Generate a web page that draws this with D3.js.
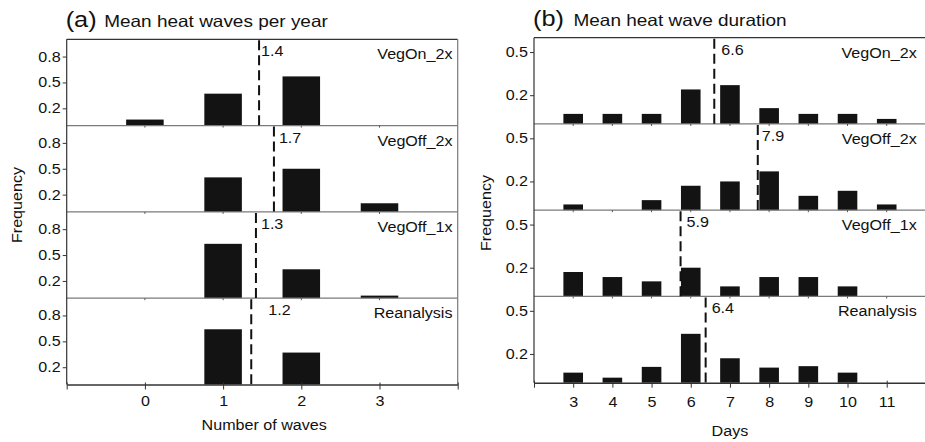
<!DOCTYPE html>
<html><head><meta charset="utf-8">
<script src="https://cdn.jsdelivr.net/npm/d3@7"></script>
<style>
html,body{margin:0;padding:0;background:#fff;}
text{font-family:"Liberation Sans",Arial,Helvetica,sans-serif;fill:#111;}
</style></head>
<body><svg id="c" width="925" height="442"></svg>
<script>
// ---------- data ----------
const panelNames = ["VegOn_2x", "VegOff_2x", "VegOff_1x", "Reanalysis"];

// (a) number of heat waves per year
const waveCounts = [0, 1, 2, 3];
const wavesVegOn2x     = [0.07, 0.37, 0.57, 0];
const wavesVegOff2x    = [0, 0.40, 0.50, 0.10];
const wavesVegOff1x    = [0, 0.63, 0.335, 0.03];
const wavesReanalysis  = [0, 0.64, 0.37, 0];
const wavesMean        = [1.46, 1.65, 1.42, 1.36];
const wavesMeanLabel   = ["1.4", "1.7", "1.3", "1.2"];
const wavesYTicks      = [0.2, 0.5, 0.8];
const wavesXTicks      = [-1, 0, 1, 2, 3, 4];
const wavesXLabels     = ["", "0", "1", "2", "3", ""];

// (b) heat wave duration
const days = [3, 4, 5, 6, 7, 8, 9, 10, 11];
const durVegOn2x    = [0.07, 0.07, 0.07, 0.24, 0.27, 0.11, 0.07, 0.07, 0.035];
const durVegOff2x   = [0.04, 0, 0.07, 0.17, 0.20, 0.27, 0.10, 0.135, 0.04];
const durVegOff1x   = [0.17, 0.135, 0.105, 0.20, 0.07, 0.135, 0.135, 0.07, 0];
const durReanalysis = [0.07, 0.035, 0.11, 0.34, 0.17, 0.105, 0.115, 0.07, 0];
const durMean       = [6.6, 7.71, 5.74, 6.38];
const durMeanLabel  = ["6.6", "7.9", "5.9", "6.4"];
const durYTicks     = [0.2, 0.5];
const durXTicks     = [2, 3, 4, 5, 6, 7, 8, 9, 10, 11, 12];
const durXLabels    = ["", "3", "4", "5", "6", "7", "8", "9", "10", "11", ""];

// ---------- drawing ----------
const svg = d3.select("#c");
const STRETCH = 1.15;
function stretch(sel, k) {
  sel.each(function () {
    const w = this.getComputedTextLength();
    this.setAttribute("textLength", w * (k || STRETCH));
    this.setAttribute("lengthAdjust", "spacingAndGlyphs");
  });
}

function drawFigure(cfg) {
  const g = svg.append("g");
  const x = d3.scaleLinear().domain(cfg.xDomain).range([cfg.left, cfg.right]);
  const panelH = cfg.panelH;
  const bottom = cfg.top + panelH * cfg.series.length;

  cfg.series.forEach((vals, i) => {
    const top = cfg.top + i * panelH;
    const y = d3.scaleLinear().domain(cfg.yDomain).range([top + panelH, top]);
    const pg = g.append("g");

    // bars
    pg.selectAll("rect").data(vals.map((v, j) => ({ c: cfg.cats[j], v })).filter(d => d.v > 0))
      .join("rect")
      .attr("x", d => x(d.c - cfg.barW / 2))
      .attr("width", d => x(d.c + cfg.barW / 2) - x(d.c - cfg.barW / 2))
      .attr("y", d => y(d.v))
      .attr("height", d => y(0) - y(d.v))
      .attr("fill", "#131313");

    // y axis ticks
    const ya = pg.append("g").attr("transform", `translate(${cfg.left},0)`)
      .call(d3.axisLeft(y).tickValues(cfg.yTicks).tickFormat(d3.format(".1f")).tickSize(4).tickPadding(2));
    ya.select(".domain").remove();
    ya.selectAll(".tick line").attr("stroke", "#333");
    ya.selectAll(".tick text").attr("font-size", 14).attr("font-family", "Liberation Sans, Arial, sans-serif").attr("fill", "#111").call(stretch);

    // separator line at panel bottom (gray) for upper panels
    if (i < cfg.series.length - 1) {
      pg.append("line").attr("x1", cfg.left).attr("x2", cfg.right)
        .attr("y1", y(0)).attr("y2", y(0)).attr("stroke", "#7a7a7a").attr("stroke-width", 1.2);
      // small ticks below separator
      pg.selectAll("line.st").data(cfg.xTicks.filter((t, k) => cfg.xLabels[k] !== "")).join("line")
        .attr("class", "st")
        .attr("x1", d => x(d)).attr("x2", d => x(d))
        .attr("y1", y(0)).attr("y2", y(0) + 2).attr("stroke", "#555").attr("stroke-width", 1);
    }

    // mean dashed line
    const mx = x(cfg.means[i]);
    pg.append("line").attr("x1", mx).attr("x2", mx).attr("y1", top + 1).attr("y2", top + panelH)
      .attr("stroke", "#111").attr("stroke-width", 2).attr("stroke-dasharray", "10,5");
    pg.append("text").attr("x", mx + 5 + cfg.nudge[i]).attr("y", top + 17)
      .attr("font-size", 14).text(cfg.meanLabels[i]).call(stretch);

    // panel name
    pg.append("text").attr("x", cfg.nameX).attr("y", top + 20).attr("text-anchor", "end")
      .attr("font-size", 14).text(cfg.names[i]).call(stretch);
  });

  // top border
  g.append("line").attr("x1", cfg.left).attr("x2", cfg.right).attr("y1", cfg.top).attr("y2", cfg.top)
    .attr("stroke", "#333").attr("stroke-width", 1.2);
  // right border
  g.append("line").attr("x1", cfg.right).attr("x2", cfg.right).attr("y1", cfg.top).attr("y2", bottom)
    .attr("stroke", "#7a7a7a").attr("stroke-width", 1.2);
  // left axis line
  g.append("line").attr("x1", cfg.left).attr("x2", cfg.left).attr("y1", cfg.top).attr("y2", bottom)
    .attr("stroke", "#333").attr("stroke-width", 1.2);

  // x axis
  const xa = g.append("g").attr("transform", `translate(0,${bottom})`)
    .call(d3.axisBottom(x).tickValues(cfg.xTicks).tickFormat((d, k) => cfg.xLabels[k]).tickSize(5).tickPadding(cfg.xPad).tickSizeOuter(0));
  xa.select(".domain").attr("stroke", "#333").attr("stroke-width", 1.4);
  xa.selectAll(".tick line").attr("stroke", "#333").attr("y1", -2);
  xa.selectAll(".tick text").attr("font-size", 14).attr("font-family", "Liberation Sans, Arial, sans-serif").attr("fill", "#111").call(stretch);

  // x title
  g.append("text").attr("x", (cfg.left + cfg.right) / 2 + cfg.xTitleDx).attr("y", cfg.xTitleY)
    .attr("text-anchor", "middle").attr("font-size", 14).text(cfg.xTitle).call(stretch);
  // y title
  g.append("text").attr("transform", `translate(${cfg.yTitleX},${cfg.yTitleY}) rotate(-90)`)
    .attr("text-anchor", "middle").attr("font-size", 14).text("Frequency").call(stretch);

  // panel title
  g.append("text").attr("x", cfg.left - 1).attr("y", cfg.titleY).attr("font-size", 22).text(cfg.letter).call(stretch);
  g.append("text").attr("x", cfg.left + cfg.titleDx).attr("y", cfg.titleY).attr("font-size", 16.5).text(cfg.title).call(stretch);
}

drawFigure({
  left: 66.7, right: 457.7, top: 39.3, panelH: 86.3,
  xDomain: [-1, 4], yDomain: [0, 1], barW: 0.48,
  cats: waveCounts,
  series: [wavesVegOn2x, wavesVegOff2x, wavesVegOff1x, wavesReanalysis],
  means: wavesMean, meanLabels: wavesMeanLabel, nudge: [-3, 0, 0, 12],
  names: panelNames, nameX: 452.5,
  yTicks: wavesYTicks, xTicks: wavesXTicks, xLabels: wavesXLabels, xPad: 7,
  xTitle: "Number of waves", xTitleY: 430, xTitleDx: 2,
  yTitleX: 22, yTitleY: 205,
  letter: "(a)", title: "Mean heat waves per year", titleDx: 37.5, titleY: 27
});

drawFigure({
  left: 534, right: 925.9, top: 37.7, panelH: 86.25,
  xDomain: [2, 12], yDomain: [0, 0.6], barW: 0.5,
  cats: days,
  series: [durVegOn2x, durVegOff2x, durVegOff1x, durReanalysis],
  means: durMean, meanLabels: durMeanLabel, nudge: [2, -1, 1, 1],
  names: panelNames, nameX: 916.7,
  yTicks: durYTicks, xTicks: durXTicks, xLabels: durXLabels, xPad: 9,
  xTitle: "Days", xTitleY: 436, xTitleDx: 0,
  yTitleX: 491, yTitleY: 213,
  letter: "(b)", title: "Mean heat wave duration", titleDx: 39.5, titleY: 26
});
</script>
</body></html>
